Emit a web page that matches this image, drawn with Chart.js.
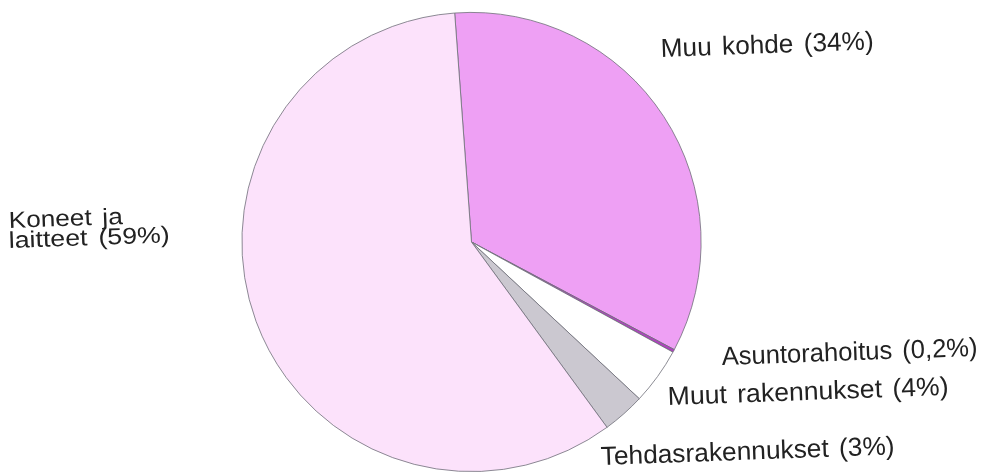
<!DOCTYPE html>
<html>
<head>
<meta charset="utf-8">
<title>Rahoituskohteet</title>
<script src="https://cdn.jsdelivr.net/npm/chart.js@4"></script>
<style>
  html, body { margin: 0; padding: 0; background: #fff; }
  canvas { display: block; }
</style>
</head>
<body>
<canvas id="pie" width="999" height="472"></canvas>
<script>
// data
const categories = ['Muu kohde', 'Asuntorahoitus', 'Muut rakennukset', 'Tehdasrakennukset', 'Koneet ja laitteet'];
const shares = [34, 0.2, 4, 3, 59];
const sliceColors = ['#eea0f4', '#b040c0', '#ffffff', '#cbc8d0', '#fce2fb'];

// label placement (left end of baseline, target width, font size, lines)
const labelLayout = [
  { x: 661, y: 57, w: 213, size: 26 },
  { x: 722, y: 365, w: 256, size: 26 },
  { x: 668, y: 405, w: 281, size: 26 },
  { x: 601, y: 465, w: 294, size: 26 },
  { x: 9, y: 228, w: [114, 161], size: 23, lines: ['Koneet ja', 'laitteet'], lineGap: 20 }
];

const fmt = v => String(v).replace('.', ',');

const labelPlugin = {
  id: 'sliceLabels',
  afterDraw(chart) {
    const ctx = chart.ctx;
    ctx.save();
    ctx.fillStyle = '#222';
    ctx.wordSpacing = '3px';
    ctx.textBaseline = 'alphabetic';
    categories.forEach((name, i) => {
      const L = labelLayout[i];
      ctx.font = L.size + 'px "Liberation Sans", Arial, sans-serif';
      const pct = ' (' + fmt(shares[i]) + '%)';
      let lines = L.lines ? L.lines.slice() : [name];
      lines[lines.length - 1] += pct;
      const widths = Array.isArray(L.w) ? L.w : [L.w];
      lines.forEach((txt, k) => {
        const y = L.y + k * (L.lineGap || 0);
        const sx = widths[k] / ctx.measureText(txt).width;
        ctx.save();
        ctx.translate(L.x, y);
        ctx.rotate(-0.036);
        ctx.scale(sx, 1);
        ctx.fillText(txt, 0, 0);
        ctx.restore();
      });
    });
    ctx.restore();
  }
};

new Chart(document.getElementById('pie'), {
  type: 'pie',
  data: {
    labels: categories,
    datasets: [{
      data: shares,
      backgroundColor: sliceColors,
      borderColor: '#6e6e78',
      borderWidth: 0.8,
      hoverOffset: 0
    }]
  },
  options: {
    responsive: false,
    animation: false,
    rotation: -4.2,
    layout: { padding: { left: 241, right: 297, top: 12, bottom: 0 } },
    plugins: {
      legend: { display: false },
      tooltip: { enabled: false }
    }
  },
  plugins: [labelPlugin]
});
</script>
</body>
</html>
